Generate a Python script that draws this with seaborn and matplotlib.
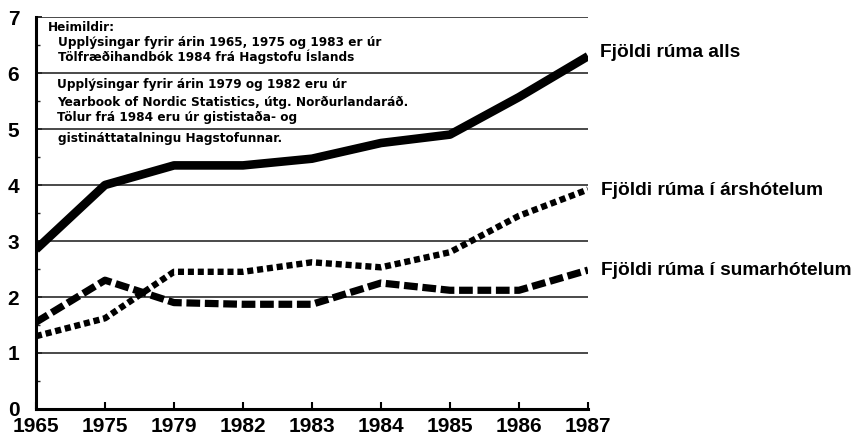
import matplotlib
matplotlib.use("Agg")
import matplotlib.pyplot as plt
import seaborn as sns
import pandas as pd

# Hotel bed counts (thousands) in Iceland
years = ["1965", "1975", "1979", "1982", "1983", "1984", "1985", "1986", "1987"]
total_beds = [2.85, 4.0, 4.35, 4.35, 4.47, 4.75, 4.9, 5.57, 6.3]
yearround_beds = [1.3, 1.62, 2.45, 2.45, 2.62, 2.53, 2.8, 3.45, 3.92]
summer_beds = [1.55, 2.3, 1.9, 1.87, 1.87, 2.25, 2.12, 2.12, 2.48]

label_total = "Fjöldi rúma alls"
label_year = "Fjöldi rúma í árshótelum"
label_summer = "Fjöldi rúma í sumarhótelum"

source_lines = [
    "Heimildir:",
    "Upplýsingar fyrir árin 1965, 1975 og 1983 er úr",
    "Tölfræðihandbók 1984 frá Hagstofu Íslands",
    "Upplýsingar fyrir árin 1979 og 1982 eru úr",
    "Yearbook of Nordic Statistics, útg. Norðurlandaráð.",
    "Tölur frá 1984 eru úr gististaða- og",
    "gistináttatalningu Hagstofunnar.",
]
source_x = [0.17, 0.32, 0.32, 0.31, 0.31, 0.31, 0.32]
source_y = [6.82, 6.54, 6.29, 5.79, 5.48, 5.21, 4.83]

sns.set_theme(style="white")
plt.rcParams["font.family"] = ["Liberation Sans", "DejaVu Sans"]
plt.rcParams["text.color"] = "black"

df = pd.DataFrame({"pos": range(len(years)), "total": total_beds,
                   "year": yearround_beds, "summer": summer_beds})

fig = plt.figure(figsize=(8.59, 4.38), dpi=100)
ax = fig.add_axes([36 / 859, 1 - 409 / 438, (588 - 36) / 859, (409 - 17) / 438])

# horizontal guide lines
for v in range(1, 8):
    ax.axhline(v, color="#2a2a2a", lw=1.2, zorder=1)

sns.lineplot(data=df, x="pos", y="summer", ax=ax, color="black", lw=5.2,
             linestyle=(0, (1.9, 0.65)), dash_capstyle="butt", zorder=3)
sns.lineplot(data=df, x="pos", y="year", ax=ax, color="black", lw=4.6,
             linestyle=(0, (0.95, 0.6)), dash_capstyle="butt", zorder=3)
sns.lineplot(data=df, x="pos", y="total", ax=ax, color="black", lw=6.2,
             solid_joinstyle="round", solid_capstyle="butt", zorder=4)

ax.set_xlim(0, len(years) - 1)
ax.set_ylim(0, 7)
ax.set_xticks(range(len(years)))
ax.set_xticklabels(years)
ax.set_yticks(range(0, 8))
ax.set_yticks([v + 0.5 for v in range(0, 7)], minor=True)
ax.set_xlabel("")
ax.set_ylabel("")

for s in ["top", "right"]:
    ax.spines[s].set_visible(False)
for s in ["left", "bottom"]:
    ax.spines[s].set_linewidth(2.2)
    ax.spines[s].set_color("black")

ax.tick_params(axis="x", direction="in", length=5, width=1.5, pad=6,
               labelsize=15, bottom=True, colors="black")
ax.tick_params(axis="y", which="major", direction="in", length=4, width=1.2,
               pad=12, labelsize=15, left=True, colors="black")
ax.tick_params(axis="y", which="minor", direction="in", length=3, width=1.0, left=True)
for lab in ax.get_xticklabels() + ax.get_yticklabels():
    lab.set_fontweight("bold")

# series labels to the right of the line ends
label_style = dict(fontsize=13.8, fontweight="bold", va="center", ha="left",
                   clip_on=False, color="black")
ax.text(8.17, 6.36, label_total, **label_style)
ax.text(8.19, 3.91, label_year, **label_style)
ax.text(8.19, 2.48, label_summer, **label_style)

# source note
for txt, x, y in zip(source_lines, source_x, source_y):
    ax.text(x, y, txt, fontsize=8.7, fontweight="bold", va="center", ha="left",
            zorder=5, color="black", family=["DejaVu Sans"])

fig.savefig("out.png", dpi=100)
